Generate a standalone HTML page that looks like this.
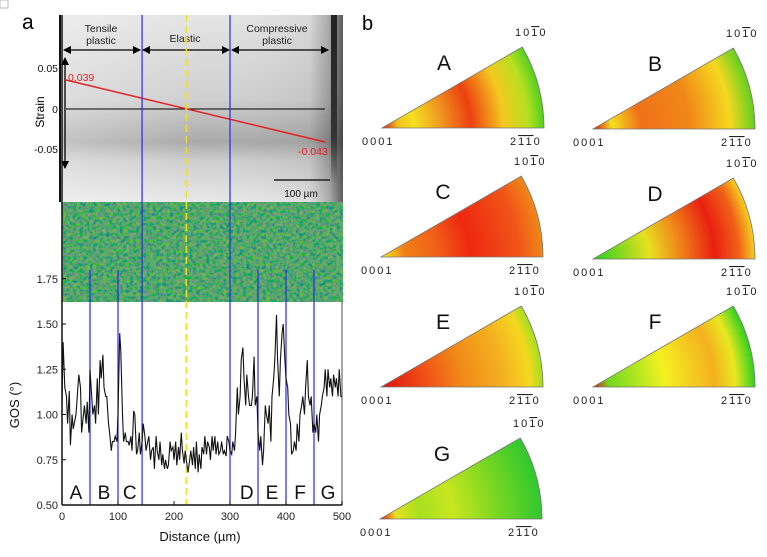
<!DOCTYPE html>
<html><head><meta charset="utf-8"><style>
html,body{margin:0;padding:0;background:#fff;}
svg{display:block;font-family:"Liberation Sans",Arial,sans-serif;}
.ipf text.idx{font-size:11px;fill:#222;letter-spacing:2px;}
.ipf text.big{font-size:21px;fill:#111;}
</style></head><body>
<svg id="fig" width="767" height="557" viewBox="0 0 767 557">
<defs>
 <linearGradient id="semV" x1="0" y1="0" x2="0" y2="1">
  <stop offset="0" stop-color="#e4e4e4"/><stop offset="0.45" stop-color="#cfcfcf"/>
  <stop offset="0.68" stop-color="#a9a9a9"/><stop offset="0.78" stop-color="#cdcdcd"/>
  <stop offset="1" stop-color="#e8e8e8"/></linearGradient>
 <linearGradient id="semH" x1="0" y1="0" x2="1" y2="0">
  <stop offset="0" stop-color="#fff" stop-opacity="0.3"/><stop offset="0.5" stop-color="#fff" stop-opacity="0"/>
  <stop offset="0.88" stop-color="#000" stop-opacity="0.05"/><stop offset="0.95" stop-color="#000" stop-opacity="0.25"/>
  <stop offset="1" stop-color="#000" stop-opacity="0.6"/></linearGradient>
 <linearGradient id="strip" x1="0" y1="0" x2="0" y2="1">
  <stop offset="0" stop-color="#222"/><stop offset="0.7" stop-color="#333"/><stop offset="1" stop-color="#333" stop-opacity="0"/></linearGradient>
 <filter id="grain" x="0" y="0" width="100%" height="100%">
  <feTurbulence type="fractalNoise" baseFrequency="0.3" numOctaves="2" seed="4" result="n"/>
  <feColorMatrix in="n" type="matrix" values="1.3 0 0 0 -0.45  0 1.0 0 0 0.05  0 -0.8 0 0 0.6  0 0 0 0 1"/>
 </filter>
 <marker id="arr" markerWidth="8" markerHeight="8" refX="7" refY="4" orient="auto-start-reverse" markerUnits="userSpaceOnUse">
  <path d="M0,0 L8,4 L0,8 z" fill="#000"/></marker>
</defs>

<rect x="0" y="0" width="8" height="8" fill="none" stroke="#bbb" stroke-width="1"/>

<!-- SEM image -->
<g>
 <rect x="62" y="15" width="281" height="187" fill="url(#semV)"/>
 <rect x="62" y="15" width="281" height="187" fill="url(#semH)"/>
 <rect x="331" y="15" width="6" height="170" fill="url(#strip)"/>
</g>
<text x="22" y="29" font-size="21">a</text>
<text x="362" y="30" font-size="20">b</text>
<line x1="60" y1="15" x2="60" y2="202" stroke="#111" stroke-width="2"/>
<g stroke="#000" stroke-width="1.3">
 <line x1="64" y1="50" x2="140" y2="50" marker-start="url(#arr)" marker-end="url(#arr)"/>
 <line x1="143" y1="50" x2="229" y2="50" marker-start="url(#arr)" marker-end="url(#arr)"/>
 <line x1="232" y1="50" x2="328" y2="50" marker-start="url(#arr)" marker-end="url(#arr)"/>
 <line x1="65" y1="58" x2="65" y2="168" marker-start="url(#arr)" marker-end="url(#arr)"/>
</g>
<g font-size="10.5" fill="#222" text-anchor="middle">
 <text x="101" y="32">Tensile</text><text x="101" y="44">plastic</text>
 <text x="185" y="42">Elastic</text>
 <text x="277" y="32">Compressive</text><text x="277" y="44">plastic</text>
</g>
<g font-size="10.5" fill="#111" text-anchor="end">
 <text x="58" y="72">0.05</text><text x="58" y="113">0</text><text x="58" y="153">-0.05</text>
</g>
<text transform="translate(44,112) rotate(-90)" font-size="12" text-anchor="middle">Strain</text>
<line x1="66" y1="109" x2="325" y2="109" stroke="#000" stroke-width="1"/>
<line x1="66" y1="80" x2="325" y2="142" stroke="#e52020" stroke-width="1.5"/>
<text x="68" y="81" font-size="10.5" fill="#e52020">0.039</text>
<text x="298" y="155" font-size="10.5" fill="#e52020">-0.043</text>
<line x1="274" y1="180" x2="330" y2="180" stroke="#222" stroke-width="1.5"/>
<text x="301" y="197" font-size="10" text-anchor="middle" fill="#111">100 µm</text>

<!-- GOS map -->
<g>
 <rect x="62" y="202" width="281" height="100" fill="#1f7a5a"/>
 <rect x="62" y="202" width="281" height="100" filter="url(#grain)" opacity="0.6"/>
</g>

<g id="chart"></g>
<g id="ipfs" class="ipf"></g>
</svg>

<script>
const distances = [0,2,5,8,10,13,15,18,20,25,30,33,35,40,43,45,48,50,53,55,58,60,63,65,68,70,73,75,78,80,83,85,88,90,93,95,98,100,103,105,108,110,113,115,118,120,123,125,128,130,133,135,138,140,143,145,148,150,155,158,160,163,165,168,170,173,175,178,180,183,185,188,190,193,195,198,200,203,205,208,210,213,215,218,220,222,225,228,230,233,235,238,240,243,245,248,250,253,255,258,260,263,265,268,270,273,275,278,280,283,285,288,290,293,295,298,300,303,305,308,310,313,315,318,320,323,325,328,330,333,335,338,340,343,345,348,350,353,355,358,360,363,365,368,370,373,375,378,380,383,385,388,390,393,395,398,400,403,405,408,410,413,415,418,420,423,425,428,430,433,435,438,440,443,445,448,450,453,455,458,460,463,465,468,470,473,475,478,480,483,485,488,490,493,495,498,500];
const gos = [1.05,1.40,1.15,1.10,0.95,1.13,0.83,1.00,0.92,1.00,1.22,1.15,0.90,1.05,0.95,1.07,0.90,1.25,1.10,1.00,1.05,0.95,1.20,1.00,1.30,1.20,1.33,1.15,1.10,1.10,0.95,0.90,0.80,0.85,0.85,0.88,0.85,1.00,1.45,1.35,1.00,0.85,0.90,0.85,0.85,0.83,0.88,0.80,1.02,1.00,0.78,0.80,0.90,0.78,0.85,0.95,0.88,0.80,0.88,0.75,0.80,0.82,0.70,0.88,0.80,0.75,0.85,0.72,0.78,0.70,0.75,0.70,0.72,0.85,0.80,0.82,0.75,0.85,0.72,0.82,0.75,0.90,0.80,0.73,0.80,0.75,0.68,0.75,0.80,0.72,0.82,0.70,0.85,0.68,0.78,0.70,0.82,0.78,0.88,0.78,0.85,0.82,0.75,0.88,0.80,0.88,0.78,0.85,0.78,0.80,0.85,0.78,0.80,0.77,0.88,0.85,0.80,0.78,0.85,0.80,0.90,1.15,1.00,1.10,1.30,1.37,1.20,1.05,1.22,1.10,1.05,1.05,1.10,1.32,1.05,1.10,0.90,0.80,0.88,0.72,0.80,1.05,1.00,0.95,1.05,0.85,1.10,1.20,1.30,1.55,1.30,1.10,1.30,1.45,1.50,1.30,1.20,1.15,1.00,0.95,0.78,0.80,0.85,0.80,0.95,0.85,1.00,1.05,1.10,1.00,1.15,1.30,1.10,1.05,1.10,0.90,0.95,0.90,1.00,0.85,1.00,1.05,1.10,1.15,1.25,1.10,1.25,1.15,1.20,1.10,1.22,1.15,1.20,1.10,1.25,1.10,1.10];
const xTicks = [0,100,200,300,400,500];
const yTicks = [0.50,0.75,1.00,1.25,1.50,1.75];
const boundaries = [50,100,143,300,350,400,450];
const elasticCenter = 222;
const zoneLetters = ['A','B','C','D','E','F','G'];
const zoneCenters = [25,75,121,330,375,425,475];

const NS='http://www.w3.org/2000/svg';
const X0=62,X1=342,Y0=505,YMIN=0.5,YMAX=1.5,YPX=324;
const xs=v=>X0+(v-0)/(500-0)*(X1-X0);
const ys=v=>Y0-(v-YMIN)/(YMAX-YMIN)*(Y0-YPX);
function mk(tag,attrs,parent){const e=document.createElementNS(NS,tag);for(const k in attrs)e.setAttribute(k,attrs[k]);parent.appendChild(e);return e;}
const g=document.getElementById('chart');

let e;
e=mk('rect',{x:X0,y:302,width:X1-X0,height:Y0-302,fill:'#fff'},g);


e=mk('line',{x1:X1,y1:302,x2:X1,y2:Y0,stroke:'#888','stroke-width':1.5},g);



boundaries.forEach(b=>{
 const l=mk('line',{x1:xs(b),y1:(b===143||b===300)?15:270,x2:xs(b),y2:Y0,stroke:'#2a2ae6','stroke-width':1.2},g);
 
 
});
e=mk('line',{x1:xs(elasticCenter),y1:15,x2:xs(elasticCenter),y2:Y0,stroke:'#f0e020','stroke-width':1.5,'stroke-dasharray':'7,4'},g);



const d=distances.map((v,i)=>(i?'L':'M')+xs(v).toFixed(1)+','+ys(gos[i]).toFixed(1)).join(' ');
e=mk('path',{d:d,fill:'none',stroke:'#111','stroke-width':1.1},g);



zoneLetters.forEach((L,i)=>{
 const t=mk('text',{x:xs(zoneCenters[i]),y:499,'font-size':19,'text-anchor':'middle',fill:'#111'},g);
 t.textContent=L;
 
 
});

e=mk('line',{x1:X0,y1:Y0,x2:X1,y2:Y0,stroke:'#111','stroke-width':1.5},g);


e=mk('line',{x1:X0,y1:15,x2:X0,y2:Y0,stroke:'#111','stroke-width':1.5},g);



xTicks.forEach(v=>{
 const tl=mk('line',{x1:xs(v),y1:Y0,x2:xs(v),y2:Y0-4,stroke:'#111'},g);
 
 
 const t=mk('text',{x:xs(v),y:Y0+15,'font-size':11,'text-anchor':'middle',fill:'#222'},g);
 t.textContent=v;
 
 
});
yTicks.forEach(v=>{
 const tl=mk('line',{x1:X0,y1:ys(v),x2:X0+4,y2:ys(v),stroke:'#111'},g);
 
 
 const t=mk('text',{x:X0-4,y:ys(v)+4,'font-size':11,'text-anchor':'end',fill:'#222'},g);
 t.textContent=v.toFixed(2);
 
 
});
e=mk('text',{x:200,y:541,'font-size':13,'text-anchor':'middle',fill:'#111'},g);
e.textContent='Distance (µm)';


e=mk('text',{transform:'translate(19,405) rotate(-90)','font-size':13,'text-anchor':'middle',fill:'#111'},g);
e.textContent='GOS (°)';



const ipfNames=['A','B','C','D','E','F','G'];
const ipfApexX=[382,593,381,593,381,593,380];
const ipfApexY=[128,129,257,259,387,387,519];
const ipfStops=[
 [[0,'#e01010'],[0.1,'#f0c020'],[0.2,'#f4e020'],[0.35,'#f0a020'],[0.55,'#ec4010'],[0.75,'#f4c820'],[0.9,'#b8e020'],[1,'#50d020']],
 [[0,'#e01010'],[0.12,'#f4e020'],[0.3,'#f07018'],[0.6,'#f08818'],[0.85,'#f4d820'],[1,'#60d020']],
 [[0,'#f4f020'],[0.15,'#f08018'],[0.35,'#f06018'],[0.55,'#ee2810'],[0.85,'#f05518'],[1,'#f08818']],
 [[0,'#20d020'],[0.35,'#e8e020'],[0.55,'#f08018'],[0.75,'#e82010'],[0.9,'#f06018'],[1,'#f4d020']],
 [[0,'#e01010'],[0.3,'#f05518'],[0.5,'#f08818'],[0.75,'#f4b020'],[0.92,'#f4d820'],[1,'#a0e020']],
 [[0,'#e01010'],[0.1,'#70d820'],[0.3,'#b8e820'],[0.45,'#f4f020'],[0.75,'#f4b020'],[0.88,'#e8e820'],[1,'#30d020']],
 [[0,'#e01010'],[0.1,'#e8e020'],[0.25,'#a8e020'],[0.45,'#c8e620'],[0.7,'#80d820'],[1,'#30c830']]
];
const R=162;
const ig=document.getElementById('ipfs');
const defs=document.querySelector('defs');
ipfNames.forEach((n,i)=>{
 const ax=ipfApexX[i],ay=ipfApexY[i];
 const rg=mk('radialGradient',{id:'ipf'+i,gradientUnits:'userSpaceOnUse',cx:ax,cy:ay,r:R},defs);
 ipfStops[i].forEach(s=>mk('stop',{offset:s[0],'stop-color':s[1]},rg));
 const grp=mk('g',{},ig);
 
 
 const tx=ax+R*Math.cos(Math.PI/6),ty=ay-R*Math.sin(Math.PI/6);
 mk('path',{d:`M${ax},${ay} L${ax+R},${ay} A${R},${R} 0 0 0 ${tx.toFixed(1)},${ty.toFixed(1)} Z`,fill:`url(#ipf${i})`,stroke:'#777','stroke-width':0.8},grp);
 const lt=mk('text',{x:ax+62,y:ay-58,'text-anchor':'middle','class':'big'},grp);
 lt.textContent=n;
 const t1=mk('text',{x:ax-20,y:ay+17,'class':'idx'},grp); t1.textContent='0001';
 const t2=mk('text',{x:ax+128,y:ay+17,'class':'idx'},grp);
 t2.innerHTML='2<tspan text-decoration="overline">1</tspan><tspan text-decoration="overline">1</tspan>0';
 const t3=mk('text',{x:ax+133,y:ay-92,'class':'idx'},grp);
 t3.innerHTML='10<tspan text-decoration="overline">1</tspan>0';
});
</script>
</body></html>
